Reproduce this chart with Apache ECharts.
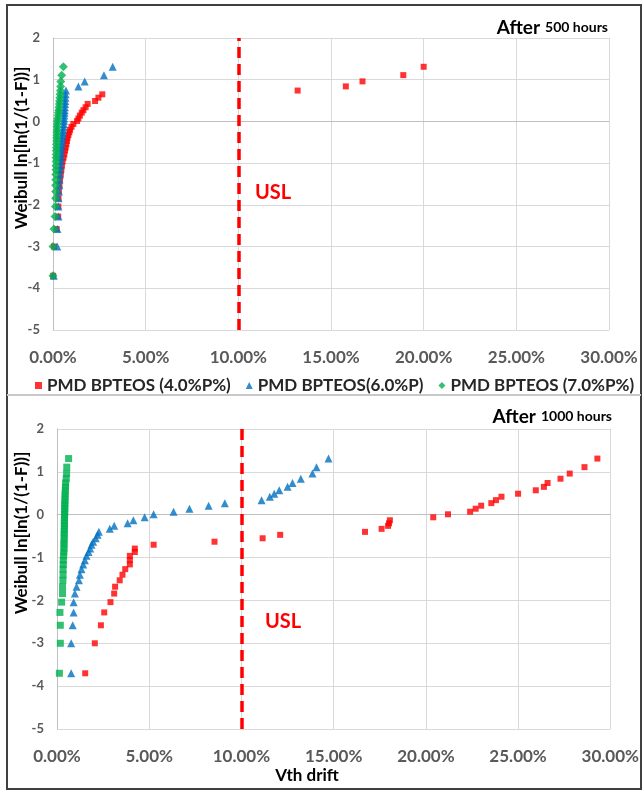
<!DOCTYPE html>
<html>
<head>
<meta charset="utf-8">
<script src="https://cdn.jsdelivr.net/npm/echarts@6/dist/echarts.min.js"></script>
<style>
html, body { margin: 0; padding: 0; background: #fff; }
#main { width: 642px; height: 791px; }
</style>
</head>
<body>
<div id="main"></div>
<script>
// Weibull plot positions ln[ln(1/(1-F))], rank 1..40
var weibullY = [-3.70, -3.00, -2.58, -2.28, -2.04, -1.84, -1.68, -1.53, -1.40, -1.27,
	-1.16, -1.06, -0.96, -0.87, -0.79, -0.70, -0.63, -0.55, -0.47, -0.40,
	-0.33, -0.26, -0.20, -0.13, -0.06, 0.01, 0.07, 0.14, 0.21, 0.27,
	0.34, 0.42, 0.49, 0.57, 0.65, 0.74, 0.84, 0.96, 1.11, 1.31];

var seriesNames = ['PMD BPTEOS (4.0%P%)', 'PMD BPTEOS(6.0%P)', 'PMD BPTEOS (7.0%P%)'];

// Vth drift (%) after 500 hours
var red500 = [0.01, 0.06, 0.20, 0.28, 0.29, 0.30, 0.32, 0.35, 0.38, 0.42,
	0.45, 0.48, 0.52, 0.57, 0.61, 0.65, 0.68, 0.72, 0.75, 0.78,
	0.83, 0.88, 0.92, 1.00, 1.10, 1.30, 1.37, 1.45, 1.55, 1.64,
	1.76, 1.87, 2.27, 2.45, 2.66, 13.2, 15.8, 16.7, 18.9, 20.0];
var blue500 = [0.04, 0.23, 0.24, 0.29, 0.29, 0.30, 0.32, 0.34, 0.35, 0.37,
	0.38, 0.40, 0.41, 0.42, 0.43, 0.44, 0.45, 0.47, 0.49, 0.50,
	0.52, 0.53, 0.55, 0.57, 0.58, 0.59, 0.60, 0.61, 0.62, 0.63,
	0.64, 0.65, 0.66, 0.67, 0.68, 0.70, 1.37, 1.71, 2.75, 3.22];
var green500 = [0.00, 0.00, 0.05, 0.11, 0.13, 0.14, 0.14, 0.14, 0.15, 0.15,
	0.16, 0.16, 0.17, 0.17, 0.18, 0.18, 0.19, 0.19, 0.20, 0.20,
	0.21, 0.21, 0.22, 0.22, 0.23, 0.24, 0.26, 0.28, 0.29, 0.31,
	0.32, 0.34, 0.35, 0.37, 0.38, 0.40, 0.41, 0.42, 0.47, 0.56];

// Vth drift (%) after 1000 hours
var red1000 = [1.53, 2.05, 2.38, 2.56, 2.90, 3.10, 3.15, 3.40, 3.55, 3.70,
	3.95, 3.95, 3.95, 4.22, 4.22, 5.24, 8.54, 11.15, 12.1, 16.7,
	17.6, 17.95, 18.0, 18.05, 20.4, 21.2, 22.4, 22.7, 23.0, 23.55,
	23.8, 24.1, 25.0, 25.96, 26.4, 26.6, 27.3, 27.8, 28.6, 29.3];
var blue1000 = [0.77, 0.77, 0.85, 0.90, 0.90, 0.97, 1.06, 1.19, 1.24, 1.33,
	1.42, 1.51, 1.60, 1.71, 1.80, 1.87, 1.96, 2.10, 2.20, 2.27,
	2.86, 3.10, 3.83, 4.14, 4.75, 5.24, 6.32, 7.18, 8.22, 9.10,
	11.09, 11.54, 11.78, 12.05, 12.5, 12.77, 13.22, 13.85, 14.07, 14.72];
var green1000 = [0.13, 0.18, 0.18, 0.16, 0.25, 0.30, 0.30, 0.32, 0.33, 0.33,
	0.34, 0.34, 0.36, 0.37, 0.38, 0.38, 0.38, 0.39, 0.39, 0.39,
	0.40, 0.40, 0.40, 0.40, 0.41, 0.41, 0.42, 0.42, 0.42, 0.43,
	0.43, 0.44, 0.44, 0.45, 0.46, 0.47, 0.50, 0.52, 0.53, 0.63];

var USL = 10; // %

var font = 'Lato';
var colors = ['#ff0000', '#0070c0', '#00b050'];

function pts(xs) {
	return xs.map(function(x, i) { return [x, weibullY[i]]; });
}

function xAxisOf(idx) {
	return {
		gridIndex: idx, type: 'value', min: 0, max: 30, interval: 5,
		axisLine: { show: true, lineStyle: { color: '#bfbfbf' } },
		axisTick: { show: false },
		splitLine: { show: true, lineStyle: { color: '#d9d9d9' } },
		axisLabel: {
			margin: 19, color: '#595959', fontSize: 17, fontWeight: 'bold', fontFamily: font,
			formatter: function(v) { return v.toFixed(2) + '%'; }
		}
	};
}

function yAxisOf(idx) {
	return {
		gridIndex: idx, type: 'value', min: -5, max: 2, interval: 1,
		axisLine: { show: true, lineStyle: { color: '#bfbfbf' } },
		axisTick: { show: false },
		splitLine: { show: true, lineStyle: { color: '#d9d9d9' } },
		axisLabel: { margin: 13, color: '#595959', fontSize: 13, fontWeight: 'bold', fontFamily: font }
	};
}

var uslLine = {
	silent: true, symbol: 'none', label: { show: false },
	lineStyle: { color: '#ff0000', width: 3.5, type: [11, 6] },
	data: [{ xAxis: USL }]
};

function scatter(name, idx, xs, color, symbol, size, withUsl) {
	var s = {
		name: name, type: 'scatter', xAxisIndex: idx, yAxisIndex: idx,
		symbol: symbol, symbolSize: size,
		itemStyle: { color: color },
		data: pts(xs)
	};
	if (withUsl) s.markLine = uslLine;
	return s;
}

function titleOf(hours, right, top) {
	return {
		text: '{a|After} {b|' + hours + ' hours}',
		right: right, top: top,
		textStyle: {
			rich: {
				a: { fontSize: 19, fontWeight: 'bold', color: '#000', fontFamily: font },
				b: { fontSize: 14, fontWeight: 'bold', color: '#000', fontFamily: font }
			}
		}
	};
}

function label(text, x, y, size, color, rot) {
	return {
		type: 'text', x: x, y: y, rotation: rot || 0,
		style: {
			text: text, fill: color, fontSize: size, fontWeight: 'bold', fontFamily: font,
			align: 'center', verticalAlign: 'middle'
		}
	};
}

var chart = echarts.init(document.getElementById('main'));
chart.setOption({
	animation: false,
	backgroundColor: '#fff',
	title: [titleOf(500, 29, 13), titleOf(1000, 25, 402)],
	grid: [
		{ left: 53, top: 38, width: 556, height: 292 },
		{ left: 57, top: 429, width: 555, height: 300 }
	],
	xAxis: [xAxisOf(0), xAxisOf(1)],
	yAxis: [yAxisOf(0), yAxisOf(1)],
	legend: {
		left: 30, top: 372, itemGap: 15, itemWidth: 7, itemHeight: 7,
		textStyle: { fontSize: 17, fontWeight: 'bold', color: '#262626', fontFamily: font },
		data: [
			{ name: seriesNames[0], icon: 'rect' },
			{ name: seriesNames[1], icon: 'triangle' },
			{ name: seriesNames[2], icon: 'diamond' }
		]
	},
	graphic: [
		{ type: 'rect', shape: { x: 7, y: 5, width: 634, height: 784 }, style: { fill: 'none', stroke: '#404040', lineWidth: 2 } },
		{ type: 'line', shape: { x1: 7, y1: 395, x2: 641, y2: 395 }, style: { stroke: '#c8c8c8', lineWidth: 2 } },
		label('Weibull ln[ln(1/(1-F))]', 22, 148, 17, '#000', Math.PI / 2),
		label('Weibull ln[ln(1/(1-F))]', 22, 533, 17, '#000', Math.PI / 2),
		label('USL', 273, 193, 20, '#ff0000'),
		label('USL', 283, 622, 20, '#ff0000'),
		label('Vth drift', 307, 776, 17, '#000')
	],
	series: [
		scatter(seriesNames[0], 0, red500, colors[0], 'rect', 6, true),
		scatter(seriesNames[1], 0, blue500, colors[1], 'triangle', 8),
		scatter(seriesNames[2], 0, green500, colors[2], 'diamond', 9),
		scatter(seriesNames[0], 1, red1000, colors[0], 'rect', 6, true),
		scatter(seriesNames[1], 1, blue1000, colors[1], 'triangle', 8),
		scatter(seriesNames[2], 1, green1000, colors[2], 'rect', 7)
	]
});
</script>
</body>
</html>
